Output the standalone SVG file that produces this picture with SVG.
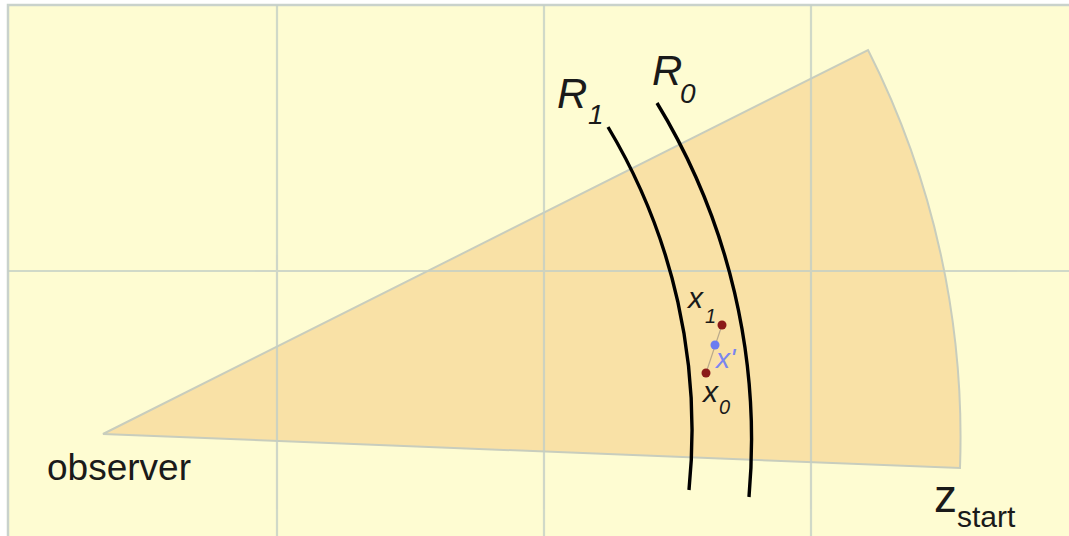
<svg xmlns="http://www.w3.org/2000/svg" width="1069" height="536" viewBox="0 0 1069 536">
<style>
.grid{stroke:#c4cfc6;stroke-width:2.2;fill:none}
.ring{stroke:#000;stroke-width:3.4;fill:none}
.lbl{font-family:"Liberation Sans",Arial,sans-serif;fill:#1a1a1a}
.it{font-style:italic}
</style>
<rect x="0" y="0" width="1069" height="536" fill="#ffffff"/>
<g id="panel">
<rect x="8" y="5" width="1070" height="540" fill="#fefcd2" stroke="#c9d2cc" stroke-width="2.5"/>
</g>
<g id="wedge">
<path d="M103 434 L868 50 A857 857 0 0 1 960 468 Z" fill="#f9e1a6" stroke="#c8cdbd" stroke-width="2"/>
</g>
<g id="grid" opacity="0.8">
<line class="grid" x1="277" y1="5" x2="277" y2="536"/>
<line class="grid" x1="544" y1="5" x2="544" y2="536"/>
<line class="grid" x1="811" y1="5" x2="811" y2="536"/>
<line class="grid" x1="8" y1="271" x2="1069" y2="271"/>
</g>
<g id="connectors">
<path class="ring" d="M608 127 A590 590 0 0 1 689 490"/>
<path class="ring" d="M657 103 A647 647 0 0 1 749 497"/>
<line x1="722" y1="325" x2="706" y2="373" stroke="#b9a98a" stroke-width="1.2"/>
</g>
<g id="R1">
<text class="lbl it" x="557" y="108" font-size="42">R</text>
<text class="lbl it" x="588" y="124" font-size="28">1</text>
</g>
<g id="R0">
<text class="lbl it" x="652" y="85" font-size="42">R</text>
<text class="lbl it" x="680" y="103" font-size="28">0</text>
</g>
<g id="x1">
<circle cx="722" cy="325" r="4.5" fill="#8b1a1a"/>
<text class="lbl it" x="688" y="308" font-size="30">x</text>
<text class="lbl it" x="705" y="323" font-size="20">1</text>
</g>
<g id="xprime">
<circle cx="715" cy="345" r="4.5" fill="#6b7cf0"/>
<text class="lbl it" x="716" y="368" font-size="28" style="fill:#7a86f0">x'</text>
</g>
<g id="x0">
<circle cx="706" cy="373" r="4.5" fill="#8b1a1a"/>
<text class="lbl it" x="703" y="402" font-size="30">x</text>
<text class="lbl it" x="719" y="414" font-size="20">0</text>
</g>
<g id="observer">
<text class="lbl" x="47" y="480" font-size="37">observer</text>
</g>
<g id="zstart">
<text class="lbl" x="934" y="512" font-size="46">z</text>
<text class="lbl" x="957" y="527" font-size="30">start</text>
</g>
</svg>
